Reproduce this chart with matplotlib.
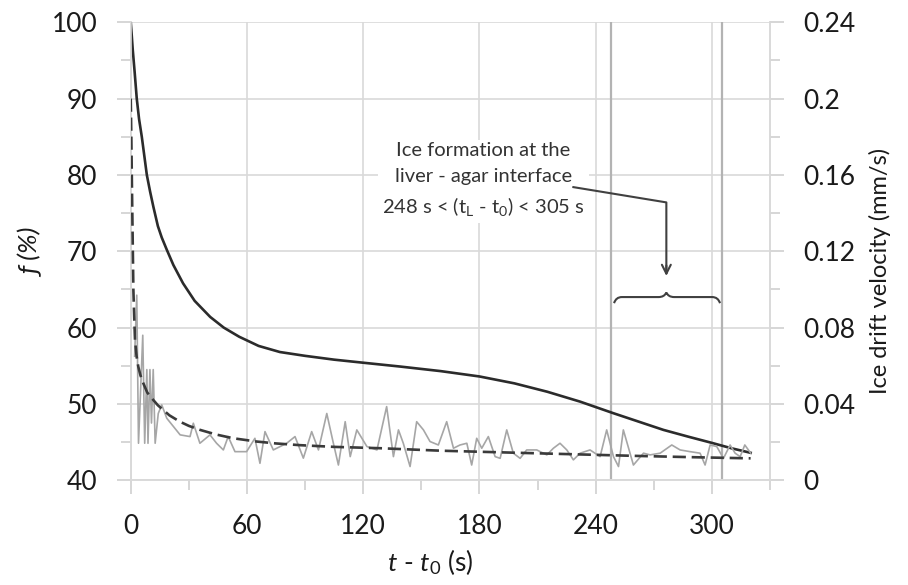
import numpy as np
import matplotlib
matplotlib.use("Agg")
import matplotlib.pyplot as plt
from matplotlib.path import Path
from matplotlib.patches import PathPatch

plt.rcParams['font.family'] = ['Lato', 'DejaVu Sans']
plt.rcParams['mathtext.fontset'] = 'custom'
plt.rcParams['mathtext.rm'] = 'Lato'
plt.rcParams['mathtext.it'] = 'Lato:italic'

# f (%) curve, left axis
f_t = [0, 0.5, 1, 1.5, 2, 3.1, 4.3, 5.7, 7, 8.3, 10, 11.7, 14, 16, 18.6, 22, 27, 33, 41,
       48, 56, 66, 77, 90, 105, 120, 139, 160, 180, 198, 215, 232, 249, 262, 275, 288,
       300, 310, 320]
f_val = [100, 98.3, 96.5, 95, 93.5, 90, 87.3, 85, 82.5, 80, 77.8, 75.8, 73.3, 71.8, 70.2,
         68.2, 65.8, 63.5, 61.4, 60, 58.8, 57.6, 56.8, 56.3, 55.8, 55.4, 54.9, 54.3, 53.6,
         52.7, 51.6, 50.3, 48.8, 47.7, 46.6, 45.7, 44.9, 44.2, 43.6]

# fitted ice drift velocity (dashed), right axis
fit_t = [0, 0.3, 0.6, 1.0, 1.35, 1.8, 2.2, 3, 3.9, 5, 6.5, 8.5, 11.7, 14, 16.8, 20, 25.4,
         30, 35.8, 44, 53, 65, 75, 87.4, 105, 128.8, 160, 200, 230, 260, 290, 314.5, 320]
fit_v = [0.2, 0.18, 0.155, 0.126, 0.1, 0.085, 0.0735, 0.065, 0.0595, 0.055, 0.0508, 0.046,
         0.042, 0.0393, 0.0368, 0.034, 0.0307, 0.0285, 0.0264, 0.024, 0.022, 0.0203, 0.0193,
         0.0184, 0.0175, 0.0168, 0.0155, 0.0144, 0.0136, 0.0128, 0.0121, 0.0116, 0.0115]

# measured ice drift velocity (grey), right axis
vel_t = [2.0, 3.1, 4.0, 5.0, 6.2, 7.2, 8.3, 8.9, 9.9, 10.7, 11.6, 12.6, 14.2, 16.0, 18.6,
         25.5, 30.6, 32.3, 35.7, 40.9, 44.3, 47.8, 50.3, 53.8, 59.8, 64.1, 66.7, 69.3, 73.6,
         80.5, 84.8, 89.1, 93.4, 96.9, 101.2, 104.6, 107.2, 110.7, 113.3, 116.7, 121.9, 127.1,
         132.1, 135.6, 138.2, 140.7, 144.2, 147.6, 151.1, 154.5, 158.8, 163.1, 166.6, 170,
         173.5, 176, 178.6, 181.2, 184.6, 188.1, 190.7, 194.1, 197.5, 201, 204.4, 209.6,
         214.8, 218.2, 221.6, 225.1, 228.5, 232, 237.1, 242.3, 245.7, 249.2, 251.8, 254.3,
         259.5, 264.7, 268.1, 273.3, 279.3, 283.6, 288.8, 293.9, 296.5, 299.1, 302.5, 306,
         309.4, 312, 314.6, 317, 320]
vel_v = [0.065, 0.097, 0.0194, 0.045, 0.076, 0.0194, 0.058, 0.0194, 0.058, 0.03, 0.058,
         0.0194, 0.035, 0.0395, 0.0325, 0.0238, 0.0229, 0.0299, 0.0194, 0.0238, 0.0194,
         0.0159, 0.0229, 0.015, 0.015, 0.022, 0.0089, 0.0255, 0.0159, 0.0194, 0.0229, 0.0116,
         0.0255, 0.0159, 0.035, 0.0194, 0.008, 0.0307, 0.0124, 0.0264, 0.0177, 0.0159,
         0.0386, 0.0124, 0.0264, 0.0194, 0.0072, 0.0307, 0.0264, 0.0203, 0.0185, 0.0307,
         0.0168, 0.0185, 0.0194, 0.008, 0.022, 0.0168, 0.0229, 0.0124, 0.0115, 0.0264,
         0.0142, 0.0115, 0.0159, 0.0159, 0.0133, 0.0168, 0.0194, 0.0159, 0.0107, 0.0142,
         0.0159, 0.0124, 0.0264, 0.0124, 0.0072, 0.0264, 0.008, 0.0142, 0.0133, 0.0142,
         0.0185, 0.0159, 0.015, 0.0142, 0.008, 0.0185, 0.0177, 0.0115, 0.0185, 0.0142,
         0.0124, 0.0185, 0.0143]

t_start, t_end = 248, 305   # ice formation window
gridc = '#d9d9d9'

fig = plt.figure(figsize=(9.08, 5.85), dpi=100)
ax = fig.add_axes([0.144, 0.179, 0.704, 0.783])
ax2 = ax.twinx()

ax.set_xlim(0, 330)
ax.set_ylim(40, 100)
ax2.set_ylim(0, 0.24)

ax.set_xticks(np.arange(0, 301, 60))
ax.set_xticks(np.arange(0, 331, 30), minor=True)
ax.set_yticks(np.arange(40, 101, 10))
ax.set_yticks(np.arange(45, 100, 10), minor=True)
ax2.set_yticks(np.arange(0, 0.241, 0.04))
ax2.set_yticklabels(['0', '0.04', '0.08', '0.12', '0.16', '0.2', '0.24'])
ax2.set_yticks(np.arange(0.02, 0.23, 0.04), minor=True)

ax.grid(True, which='major', color=gridc, lw=1.2)
ax.set_axisbelow(True)
for a in (ax, ax2):
    a.spines['top'].set_visible(False)
    for s in ('left', 'right', 'bottom'):
        a.spines[s].set_color(gridc)
        a.spines[s].set_linewidth(1.2)
    a.tick_params(which='both', color='#cfcfcf', width=1.2, labelsize=19, labelcolor='#1a1a1a')
    a.tick_params(which='major', length=10)
    a.tick_params(which='minor', length=7)
ax.tick_params(axis='y', pad=14)
ax.tick_params(axis='x', pad=14)
ax2.tick_params(axis='y', pad=14)

ax.axvline(t_start, color='#b3b3b3', lw=1.6, zorder=1)
ax.axvline(t_end, color='#b3b3b3', lw=1.6, zorder=1)

ax.plot(f_t, f_val, color='#2b2b2b', lw=1.9, zorder=3)
ax2.plot(vel_t, vel_v, color='#a6a6a6', lw=1.2, zorder=2)
ax2.plot(fit_t, fit_v, color='#3a3a3a', lw=1.9, dashes=(5, 2.2), zorder=3)

# annotation text, leader line and brace
ax.text(182, 79.3, 'Ice formation at the\nliver - agar interface\n'
        r'248 s < (t$_\mathregular{L}$ - t$_\mathregular{0}$) < 305 s',
        ha='center', va='center', fontsize=14.5, color='#333333', linespacing=1.6,
        bbox=dict(facecolor='white', edgecolor='none', pad=3), zorder=3)
mid = (t_start + t_end) / 2
ax.plot([228.5, mid, mid], [78.4, 76.4, 67.2], color='#404040', lw=1.5, zorder=4)
ax.annotate('', xy=(mid, 66.4), xytext=(mid, 68.5),
            arrowprops=dict(arrowstyle='->', color='#404040', lw=1.5,
                            mutation_scale=16))
b0, b1 = t_start + 1.5, t_end - 0.8
yb, yh, yp = 63.2, 64.0, 64.6
verts = [(b0, yb), (b0 + 1, yh), (b0 + 4, yh), (mid - 4, yh), (mid - 1, yh), (mid, yp),
         (mid + 1, yh), (mid + 4, yh), (b1 - 4, yh), (b1 - 1, yh), (b1, yb)]
codes = [Path.MOVETO, Path.CURVE3, Path.CURVE3, Path.LINETO, Path.CURVE3, Path.CURVE3,
         Path.CURVE3, Path.CURVE3, Path.LINETO, Path.CURVE3, Path.CURVE3]
ax.add_patch(PathPatch(Path(verts, codes), facecolor='none', edgecolor='#404040', lw=1.5))

fig.text(0.474, 0.04, r'$\mathit{t}$ - $\mathit{t}_\mathregular{0}$ (s)', ha='center',
         va='center', fontsize=19, color='#1a1a1a')
fig.text(0.036, 0.567, 'ƒ (%)', rotation=90, ha='center', va='center', fontsize=19,
         color='#1a1a1a', style='italic')
fig.text(0.969, 0.537, 'Ice drift velocity (mm/s)', rotation=90, ha='center', va='center',
         fontsize=17, color='#1a1a1a')

fig.savefig('out.png', dpi=100)
